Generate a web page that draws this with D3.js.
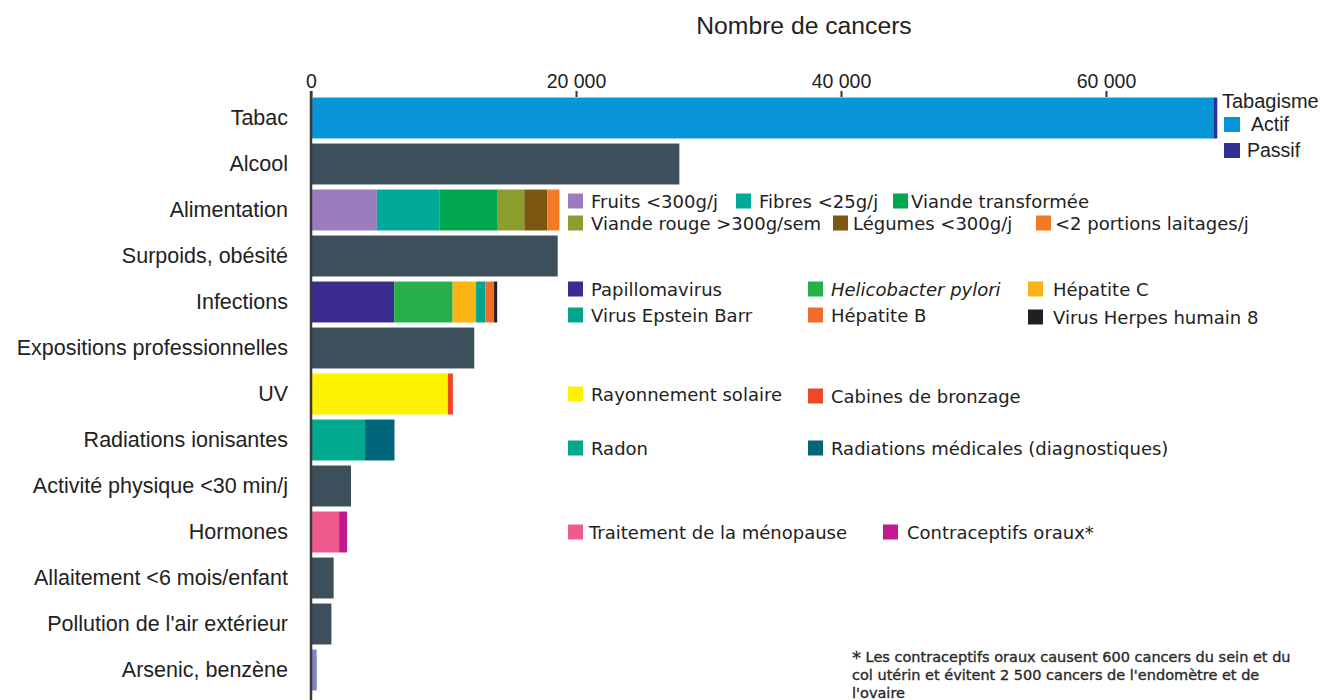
<!DOCTYPE html>
<html>
<head>
<meta charset="utf-8">
<script src="https://cdn.jsdelivr.net/npm/d3@7.9.0/dist/d3.min.js"></script>
<style>
  body { margin: 0; background: #fff; }
  svg { display: block; }
</style>
</head>
<body>
<div id="chart"></div>
<script>
// categories, top to bottom
const categories = ["Tabac", "Alcool", "Alimentation", "Surpoids, obésité", "Infections",
  "Expositions professionnelles", "UV", "Radiations ionisantes", "Activité physique <30 min/j",
  "Hormones", "Allaitement <6 mois/enfant", "Pollution de l'air extérieur", "Arsenic, benzène"];

// x axis ticks
const tickValues = [0, 20000, 40000, 60000];
const tickLabels = ["0", "20 000", "40 000", "60 000"];

// stacked categories
const tabacLabels = ["Actif", "Passif"];
const tabacValues = [68100, 300];
const alimentationLabels = ["Fruits <300g/j", "Fibres <25g/j", "Viande transformée",
  "Viande rouge >300g/sem", "Légumes <300g/j", "<2 portions laitages/j"];
const alimentationValues = [4970, 4710, 4360, 2060, 1740, 910];
const infectionsLabels = ["Papillomavirus", "Helicobacter pylori", "Hépatite C",
  "Virus Epstein Barr", "Hépatite B", "Virus Herpes humain 8"];
const infectionsValues = [6280, 4410, 1770, 700, 660, 230];
const uvLabels = ["Rayonnement solaire", "Cabines de bronzage"];
const uvValues = [10330, 380];
const radiationsLabels = ["Radon", "Radiations médicales (diagnostiques)"];
const radiationsValues = [4080, 2220];
const hormonesLabels = ["Traitement de la ménopause", "Contraceptifs oraux*"];
const hormonesValues = [2120, 600];

// single-value categories
const singleCategories = ["Alcool", "Surpoids, obésité", "Expositions professionnelles",
  "Activité physique <30 min/j", "Allaitement <6 mois/enfant", "Pollution de l'air extérieur", "Arsenic, benzène"];
const singleValues = [27800, 18620, 12320, 3020, 1710, 1540, 430];

const footnote = ["Les contraceptifs oraux causent 600 cancers du sein et du",
  "col utérin et évitent 2 500 cancers de l'endomètre et de", "l'ovaire"];

// styles
const slate = "#3e4f5c";
const groups = [
  { cat: "Tabac", labels: tabacLabels, values: tabacValues, colors: ["#0795d8", "#2e3192"] },
  { cat: "Alimentation", labels: alimentationLabels, values: alimentationValues,
    colors: ["#9b7cbd", "#00a99a", "#00a650", "#8b9d2c", "#7b5710", "#f27a24"] },
  { cat: "Infections", labels: infectionsLabels, values: infectionsValues,
    colors: ["#3b2c8f", "#26b04b", "#fbb416", "#00a68b", "#f26b2c", "#231f20"] },
  { cat: "UV", labels: uvLabels, values: uvValues, colors: ["#fff200", "#ee4824"] },
  { cat: "Radiations ionisantes", labels: radiationsLabels, values: radiationsValues, colors: ["#00a98e", "#01657c"] },
  { cat: "Hormones", labels: hormonesLabels, values: hormonesValues, colors: ["#f05a8f", "#c3198e"] }
];
const singleColors = { "Arsenic, benzène": "#7a86c8" };

// legend layout: [swatch x, text x, dy from row centre]
const legendLayout = {
  "Alimentation": [[568, 591, -9], [736, 759, -9], [893, 911, -9], [568, 591, 13], [833, 853, 13], [1036, 1055, 13]],
  "Infections": [[568, 591, -13], [808, 831, -13], [1028, 1053, -13], [568, 591, 13], [808, 831, 13], [1028, 1053, 15]],
  "UV": [[568, 591, 0], [808, 831, 2]],
  "Radiations ionisantes": [[568, 591, 8], [808, 831, 8]],
  "Hormones": [[568, 589, 0], [883, 907, 0]]
};

const width = 1322, height = 700;
const svg = d3.select("#chart").append("svg")
  .attr("width", width).attr("height", height)
  .style("font-family", "'Liberation Sans', Arial, sans-serif");

const x = d3.scaleLinear().domain([0, 60000]).range([311, 1106]);
const y = d3.scaleBand().domain(categories).range([95, 693]).paddingInner(0.11).paddingOuter(0.055);

// title
svg.append("text").attr("x", 804).attr("y", 34).attr("text-anchor", "middle")
  .attr("font-size", 24.7).attr("fill", "#222").text("Nombre de cancers");

// bars: single
svg.append("g").selectAll("rect").data(singleCategories).join("rect")
  .attr("x", x(0)).attr("y", d => y(d))
  .attr("width", (d, i) => x(singleValues[i]) - x(0))
  .attr("height", y.bandwidth())
  .attr("fill", d => singleColors[d] || slate);

// bars: stacked
groups.forEach(g => {
  const ends = d3.cumsum(g.values);
  svg.append("g").selectAll("rect").data(g.values).join("rect")
    .attr("x", (d, i) => x(ends[i] - d))
    .attr("y", y(g.cat))
    .attr("width", d => x(d) - x(0))
    .attr("height", y.bandwidth())
    .attr("fill", (d, i) => g.colors[i]);
});

// top axis
const xAxis = svg.append("g").attr("transform", "translate(0,97)")
  .call(d3.axisTop(x).tickValues(tickValues).tickFormat((d, i) => tickLabels[i]).tickSize(6).tickPadding(3));
xAxis.select(".domain").remove();
xAxis.selectAll(".tick line").attr("stroke", "#333").attr("stroke-width", 2);
xAxis.selectAll(".tick text").attr("font-size", 19.5).attr("fill", "#222")
  .style("font-family", "'Liberation Sans', Arial, sans-serif");

// left axis with category labels
const yAxis = svg.append("g").attr("transform", `translate(${x(0)},0)`)
  .call(d3.axisLeft(y).tickSize(0).tickPadding(23));
yAxis.select(".domain").remove();
yAxis.selectAll(".tick text").attr("font-size", 21.5).attr("fill", "#222")
  .style("font-family", "'Liberation Sans', Arial, sans-serif");
svg.append("line").attr("x1", x(0)).attr("x2", x(0)).attr("y1", 91).attr("y2", height)
  .attr("stroke", "#3a3a3a").attr("stroke-width", 2.5);

// legends next to stacked bars
const legendFont = "'DejaVu Sans', Verdana, sans-serif";
groups.filter(g => legendLayout[g.cat]).forEach(g => {
  const cy = y(g.cat) + y.bandwidth() / 2;
  const lg = svg.append("g").style("font-family", legendFont);
  g.labels.forEach((lab, i) => {
    const [sx, tx, dy] = legendLayout[g.cat][i];
    lg.append("rect").attr("x", sx).attr("y", cy + dy - 7.5).attr("width", 15).attr("height", 15)
      .attr("fill", g.colors[i]);
    const t = lg.append("text").attr("x", tx).attr("y", cy + dy + 6.5)
      .attr("font-size", 18).attr("fill", "#222").text(lab);
    if (lab === "Helicobacter pylori") t.attr("font-style", "italic");
  });
});

// tabac legend
const tab = groups[0];
const tl = svg.append("g");
tl.append("text").attr("x", 1222).attr("y", 108).attr("font-size", 20).attr("fill", "#222").text("Tabagisme");
tab.labels.forEach((lab, i) => {
  const yy = 117 + i * 26;
  tl.append("rect").attr("x", 1224).attr("y", yy).attr("width", 16).attr("height", 15).attr("fill", tab.colors[i]);
  tl.append("text").attr("x", i === 0 ? 1251 : 1247).attr("y", yy + 14).attr("font-size", 19.5)
    .attr("fill", "#222").text(lab);
});

// footnote
const fn = svg.append("g").style("font-family", legendFont)
  .attr("fill", "#2a2a2a").attr("stroke", "#2a2a2a").attr("stroke-width", 0.35);
footnote.forEach((line, i) => {
  const t = fn.append("text").attr("x", 852).attr("y", 662 + i * 18).attr("font-size", 14.5);
  if (i === 0) {
    t.append("tspan").attr("font-size", 18).attr("dy", 2).text("*");
    t.append("tspan").attr("dy", -2).text(" " + line);
  } else {
    t.text(line);
  }
});
</script>
</body>
</html>
